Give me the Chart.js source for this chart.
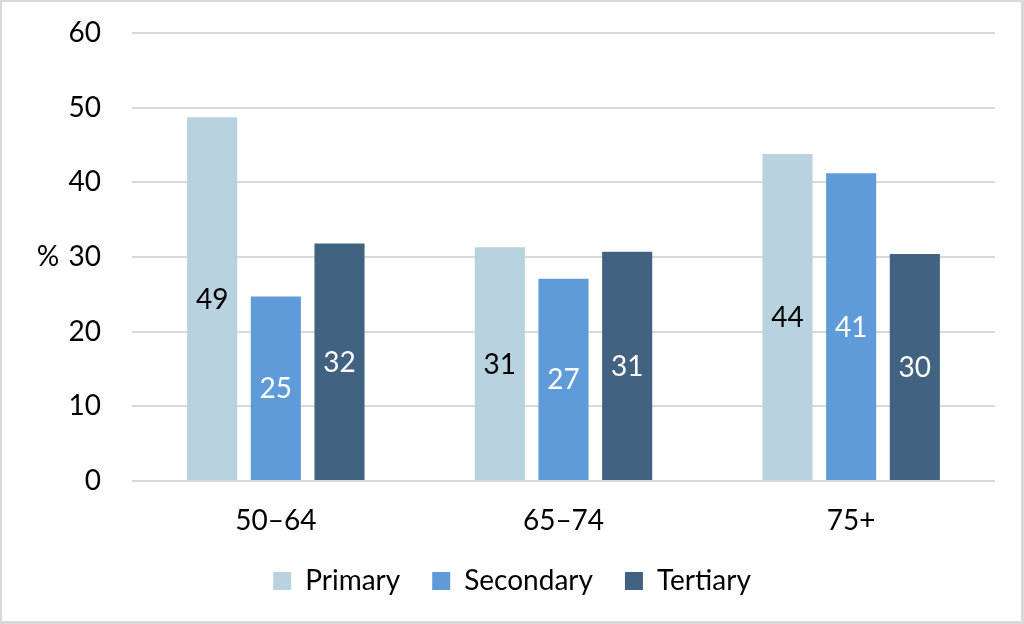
<!DOCTYPE html>
<html>
<head>
<meta charset="utf-8">
<script src="https://cdn.jsdelivr.net/npm/chart.js@4.4.0/dist/chart.umd.min.js"></script>
<style>
  html, body { margin: 0; padding: 0; background: #fff; }
  #wrap { position: relative; width: 1024px; height: 624px; }
  #frame {
    position: absolute; left: 0; top: 0; width: 1024px; height: 624px;
    box-sizing: border-box; border: 2px solid #d9d9d9;
    border-right-width: 3px; border-bottom-width: 3px;
    pointer-events: none;
  }
  canvas { position: absolute; left: 0; top: 0; }
</style>
</head>
<body>
<div id="wrap">
  <canvas id="chart" width="1024" height="624"></canvas>
  <div id="frame"></div>
</div>
<script>
// Chart data
const ageGroups = ['50\u201364', '65\u201374', '75+'];
const primaryValues = [48.7, 31.3, 43.8];
const secondaryValues = [24.7, 27.1, 41.2];
const tertiaryValues = [31.8, 30.7, 30.4];
const yTicks = [0, 10, 20, 30, 40, 50, 60];

const FONT = "Lato, 'Open Sans', sans-serif";
const FSIZE = 28;

// Value labels in the middle of each bar
const barLabels = {
    id: 'barLabels',
    afterDatasetsDraw(chart) {
        const ctx = chart.ctx;
        ctx.save();
        ctx.font = FSIZE + 'px ' + FONT;
        ctx.textAlign = 'center';
        ctx.textBaseline = 'middle';
        chart.data.datasets.forEach((ds, i) => {
            const meta = chart.getDatasetMeta(i);
            meta.data.forEach((bar, j) => {
                const y = (bar.y + bar.base) / 2;
                ctx.fillStyle = ds.labelColor;
                ctx.fillText(Math.round(ds.data[j]), bar.x, y + 1);
            });
        });
        ctx.restore();
    }
};

// "%" unit label next to the 30 tick
const unitLabel = {
    id: 'unitLabel',
    afterDraw(chart) {
        const ctx = chart.ctx;
        const y = chart.scales.y.getPixelForValue(30);
        ctx.save();
        ctx.font = FSIZE + 'px ' + FONT;
        ctx.fillStyle = '#000';
        ctx.textAlign = 'center';
        ctx.textBaseline = 'middle';
        ctx.fillText('%', 48, y);
        ctx.restore();
    }
};

new Chart(document.getElementById('chart').getContext('2d'), {
    type: 'bar',
    data: {
        labels: ageGroups,
        datasets: [
            { label: 'Primary', data: primaryValues, backgroundColor: '#b8d2e0', labelColor: '#000' },
            { label: 'Secondary', data: secondaryValues, backgroundColor: '#5f9bd8', labelColor: '#fff' },
            { label: 'Tertiary', data: tertiaryValues, backgroundColor: '#426281', labelColor: '#fff' }
        ]
    },
    options: {
        responsive: false,
        animation: false,
        categoryPercentage: 0.664,
        barPercentage: 0.787,
        layout: { padding: { top: 33, right: 0, bottom: 19, left: 0 } },
        scales: {
            x: {
                grid: { display: false },
                border: { display: false },
                ticks: { color: '#000', font: { family: FONT, size: FSIZE }, padding: 15 },
                afterFit(scale) { scale.height = 54; }
            },
            y: {
                min: 0,
                max: 60,
                afterBuildTicks(scale) { scale.ticks = yTicks.map(v => ({ value: v })); },
                grid: { color: '#d9d9d9', lineWidth: 2, drawTicks: false },
                border: { display: false },
                ticks: { color: '#000', font: { family: FONT, size: FSIZE }, padding: 31 },
                afterFit(scale) {
                    scale.width = 132;
                    scale.paddingTop = 0;
                    scale.paddingBottom = 0;
                }
            },
            // empty spacer on the right so the legend stays centred on the page
            spacer: {
                type: 'linear',
                axis: 'y',
                position: 'right',
                grid: { display: false },
                border: { display: false },
                ticks: { display: false },
                afterFit(scale) {
                    scale.width = 29;
                    scale.paddingTop = 0;
                    scale.paddingBottom = 0;
                }
            }
        },
        plugins: {
            legend: {
                position: 'bottom',
                labels: {
                    color: '#000',
                    font: { family: FONT, size: FSIZE },
                    boxWidth: 18,
                    boxHeight: 18,
                    padding: 32
                }
            },
            tooltip: { enabled: false }
        }
    },
    plugins: [barLabels, unitLabel]
});
</script>
</body>
</html>
